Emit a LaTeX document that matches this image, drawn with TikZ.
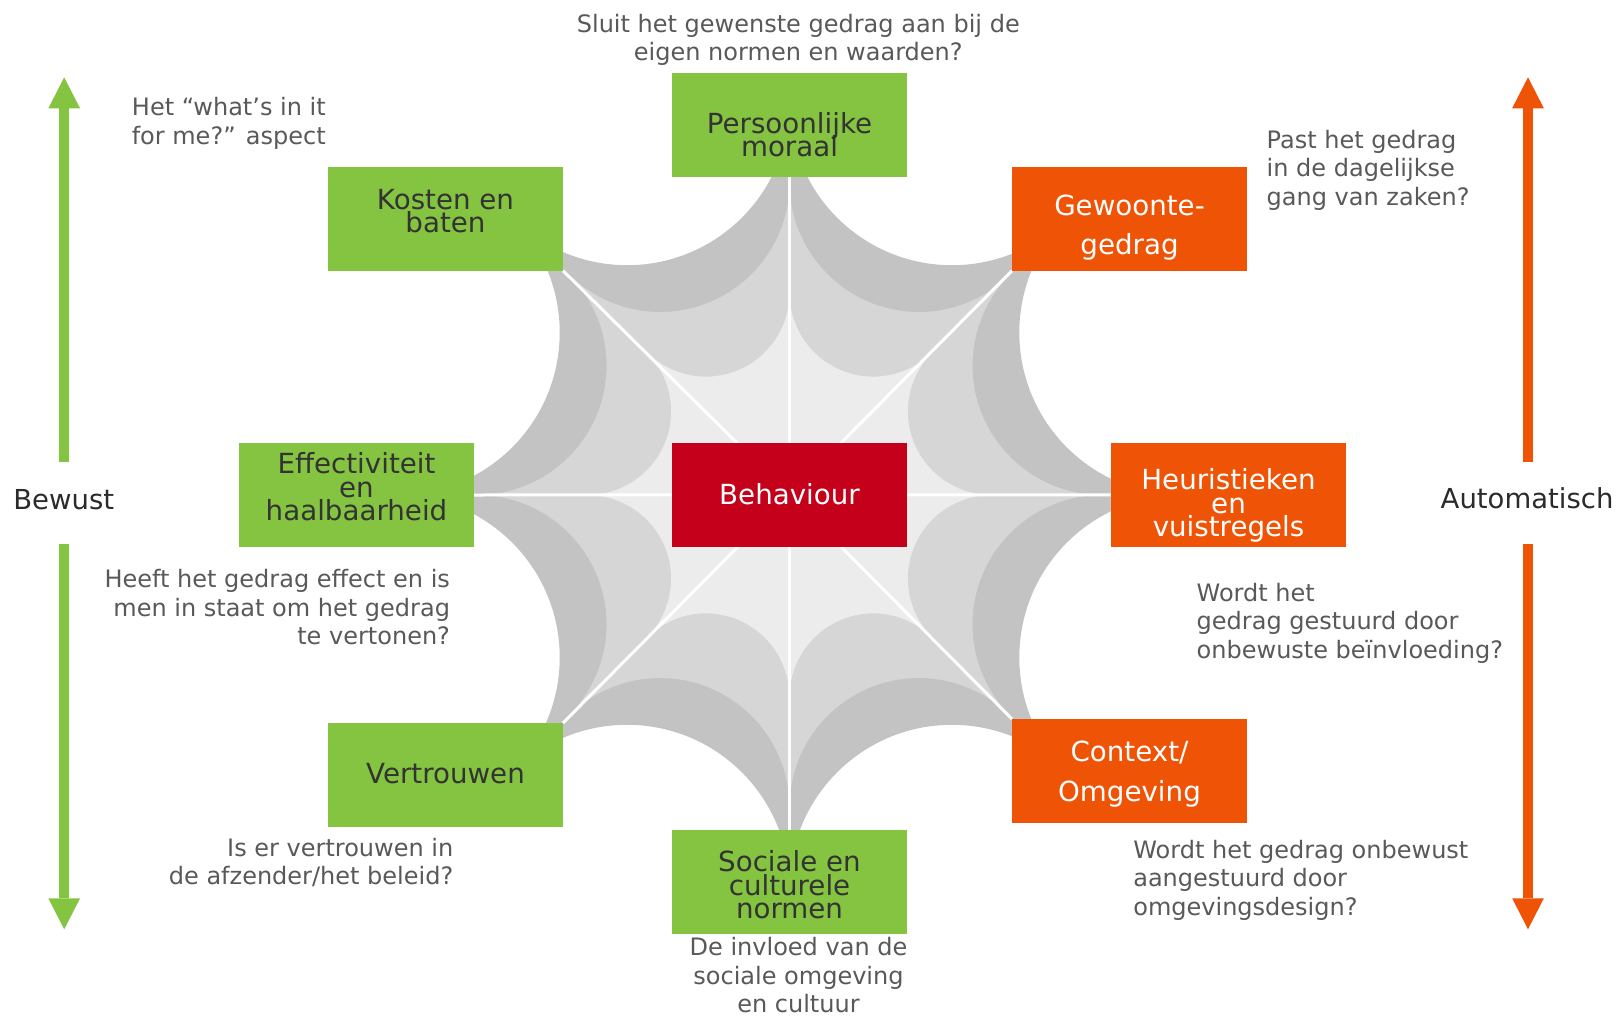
\documentclass[tikz,border=0pt]{standalone}
\usepackage{fontspec}
\setmainfont{DejaVu Sans}
\usetikzlibrary{arrows.meta}
\pgfdeclarelayer{background}
\pgfsetlayers{background,main}
\definecolor{cgreen}{HTML}{84C441}
\definecolor{corange}{HTML}{EF5306}
\definecolor{cred}{HTML}{C4001A}
\definecolor{webA}{HTML}{C3C3C3}
\definecolor{webB}{HTML}{D6D6D6}
\definecolor{webC}{HTML}{ECECEC}
\definecolor{annotgray}{HTML}{595959}
\definecolor{boxtxt}{HTML}{333333}
\definecolor{sidetxt}{HTML}{2B2B2B}
\newcommand\bx[2]{\parbox[c][103.7pt][t]{235pt}{\centering\lineskiplimit=-100pt\rule{0pt}{#1pt}#2}}
\newcommand\annl[1]{\parbox[t]{500pt}{\raggedright\lineskiplimit=-100pt #1}}
\newcommand\annr[1]{\parbox[t]{500pt}{\raggedleft\lineskiplimit=-100pt #1}}
\newcommand\annc[1]{\parbox[t]{500pt}{\centering\lineskiplimit=-100pt #1}}
\begin{document}
\begin{tikzpicture}[x=1pt,y=1pt,
  boxbase/.style={inner sep=0pt, outer sep=0pt, font=\fontsize{27.7}{23.5}\selectfont},
  greenbox/.style={boxbase, fill=cgreen, text=boxtxt},
  orangebox/.style={boxbase, fill=corange, text=white},
  redbox/.style={boxbase, fill=cred, text=white},
  widelines/.style={font=\fontsize{27.7}{39.5}\selectfont},
  annotxt/.style={inner sep=0pt, outer sep=0pt, text=annotgray, font=\fontsize{24}{28.5}\selectfont},
  sidelabel/.style={inner sep=0pt, outer sep=0pt, text=sidetxt, font=\fontsize{27.5}{33}\selectfont},
  spoke/.style={draw=white, line width=3pt},
  axisarrow/.style={line width=10.3pt, -{Triangle[length=31pt,width=31.7pt,line width=0pt]}}
]
\useasboundingbox (0,0) rectangle (1617,-1017);

% boxes
\node[greenbox] (pers) at (789.5,-124.85) {\bx{60.3}{Persoonlijke\\moraal}};
\node[greenbox] (kost) at (445.5,-218.85) {\bx{42.3}{Kosten en\\baten}};
\node[orangebox, widelines] (gew) at (1129.5,-218.85) {\bx{48}{Gewoonte-\\gedrag}};
\node[greenbox] (eff) at (356.5,-495) {\bx{30.7}{Effectiviteit\\en\\haalbaarheid}};
\node[redbox] (beh) at (789.5,-494.8) {\bx{61.5}{Behaviour}};
\node[orangebox] (heur) at (1228.5,-494.85) {\bx{46.7}{Heuristieken\\en\\vuistregels}};
\node[greenbox] (vert) at (445.5,-774.85) {\bx{60.3}{Vertrouwen}};
\node[orangebox, widelines] (cont) at (1129.5,-770.85) {\bx{42.7}{Context/\\Omgeving}};
\node[greenbox] (soc) at (789.5,-881.85) {\bx{41.7}{Sociale en\\culturele\\normen}};

% web and spokes behind the boxes
\begin{pgfonlayer}{background}
\fill[white] (0,0) rectangle (1617,-1017);
\begin{scope}[shift={(789.5,-495)}]
\foreach \d/\col in {424.6/webA, 338.1/webB, 218.7/webC}{
  \pgfmathsetmacro\tp{\d*cos(22.5)}
  \pgfmathsetmacro\rr{\d*sin(22.5)}
  \fill[\col] (0:\tp) \foreach \a in {0,45,...,315}{ arc[start angle=\a+270, end angle=\a+135, radius=\rr] } -- cycle;
}
\end{scope}
\draw[spoke] (beh.center) -- (pers.south);
\draw[spoke] (beh.center) -- (kost.south east);
\draw[spoke] (beh.center) -- (gew.south west);
\draw[spoke] (beh.center) -- (eff.east);
\draw[spoke] (beh.center) -- (heur.west);
\draw[spoke] (beh.center) -- (vert.north east);
\draw[spoke] (beh.center) -- (cont.north west);
\draw[spoke] (beh.center) -- (soc.north);
\end{pgfonlayer}

% side axes
\node[sidelabel, anchor=base west] (bewust) at (13.3,-509) {Bewust};
\node[sidelabel, anchor=base west] (automatisch) at (1440.7,-508) {Automatisch};
\coordinate (gtop) at (64.2,-77.3);
\coordinate (gtopbase) at (64.2,-462);
\coordinate (gbot) at (64.2,-929.3);
\coordinate (gbotbase) at (64.2,-543.7);
\coordinate (otop) at (1528,-77.3);
\coordinate (otopbase) at (1528,-462);
\coordinate (obot) at (1528,-929.3);
\coordinate (obotbase) at (1528,-543.7);
\draw[axisarrow, cgreen] (gtopbase) -- (gtop);
\draw[axisarrow, cgreen] (gbotbase) -- (gbot);
\draw[axisarrow, corange] (otopbase) -- (otop);
\draw[axisarrow, corange] (obotbase) -- (obot);

% annotations
\node[annotxt, anchor=base] (q1) at (798.3,-32.3) {\annc{Sluit het gewenste gedrag aan bij de\\eigen normen en waarden?}};
\node[annotxt, anchor=base east] (q2) at (325.7,-115.7) {\annr{Het “what’s in it\\for me?” aspect}};
\node[annotxt, anchor=base west] (q3) at (1266.7,-148.3) {\annl{Past het gedrag\\in de dagelijkse\\gang van zaken?}};
\node[annotxt, anchor=base east] (q4) at (450,-587.7) {\annr{Heeft het gedrag effect en is\\men in staat om het gedrag\\te vertonen?}};
\node[annotxt, anchor=base west] (q5) at (1196.7,-601) {\annl{Wordt het\\gedrag gestuurd door\\onbewuste beïnvloeding?}};
\node[annotxt, anchor=base east] (q6) at (453.3,-856) {\annr{Is er vertrouwen in\\de afzender/het beleid?}};
\node[annotxt, anchor=base west] (q7) at (1133.3,-858.3) {\annl{Wordt het gedrag onbewust\\aangestuurd door\\omgevingsdesign?}};
\node[annotxt, anchor=base] (q8) at (798.5,-955.7) {\annc{De invloed van de\\sociale omgeving\\en cultuur}};
\end{tikzpicture}
\end{document}
